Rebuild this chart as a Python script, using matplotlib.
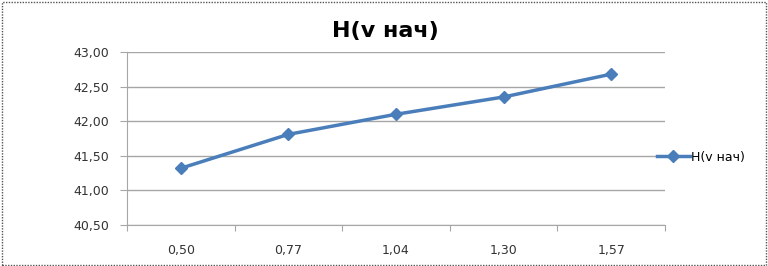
import matplotlib
matplotlib.use("Agg")
import matplotlib.pyplot as plt
from matplotlib.patches import Rectangle
import numpy as np

categories = ["0,50", "0,77", "1,04", "1,30", "1,57"]
values = [41.32, 41.81, 42.10, 42.35, 42.68]
yticks = [40.5, 41.0, 41.5, 42.0, 42.5, 43.0]
series_name = "H(v нач)"

line_color = "#4a7ebb"
grid_color = "#a6a6a6"

fig = plt.figure(figsize=(7.68, 2.66), dpi=100)
ax = fig.add_axes([127 / 768, 1 - 225 / 266, (665 - 127) / 768, (225 - 52) / 266])

x = np.arange(len(categories))
ax.plot(x, values, color=line_color, lw=2.5, marker="D", markersize=6.5,
        markerfacecolor=line_color, markeredgecolor=line_color, label=series_name)

ax.set_xlim(-0.5, len(categories) - 0.5)
ax.set_ylim(yticks[0], yticks[-1])
ax.set_yticks(yticks)
ax.set_yticklabels([f"{v:.2f}".replace(".", ",") for v in yticks], fontsize=9, color="#333333")
ax.yaxis.grid(True, color=grid_color, lw=1)
ax.set_axisbelow(True)

# category labels centered, ticks at the boundaries
ax.set_xticks(np.arange(-0.5, len(categories), 1.0))
ax.set_xticklabels([])
ax.set_xticks(x, minor=True)
ax.set_xticklabels(categories, minor=True, fontsize=9, color="#333333")
ax.tick_params(axis="x", which="major", length=4, color=grid_color, direction="out")
ax.tick_params(axis="x", which="minor", length=0, pad=14)
ax.tick_params(axis="y", length=5, color=grid_color, pad=8)

for s in ["top", "right"]:
    ax.spines[s].set_visible(False)
for s in ["left", "bottom"]:
    ax.spines[s].set_color(grid_color)

fig.text(385 / 768, 1 - 31 / 266, series_name, ha="center", va="center",
         fontsize=16, fontweight="bold")

ax.legend(loc="center left", bbox_to_anchor=(657 / 768, 1 - 157 / 266),
          bbox_transform=fig.transFigure, frameon=False, fontsize=9,
          handlelength=2.6, handletextpad=0.15, borderaxespad=0, borderpad=0)

fig.patches.append(Rectangle((0.002, 0.004), 0.995, 0.99, transform=fig.transFigure,
                             fill=False, edgecolor="#555555", lw=1, linestyle=(0, (1, 1))))

fig.savefig("out.png", dpi=100)
